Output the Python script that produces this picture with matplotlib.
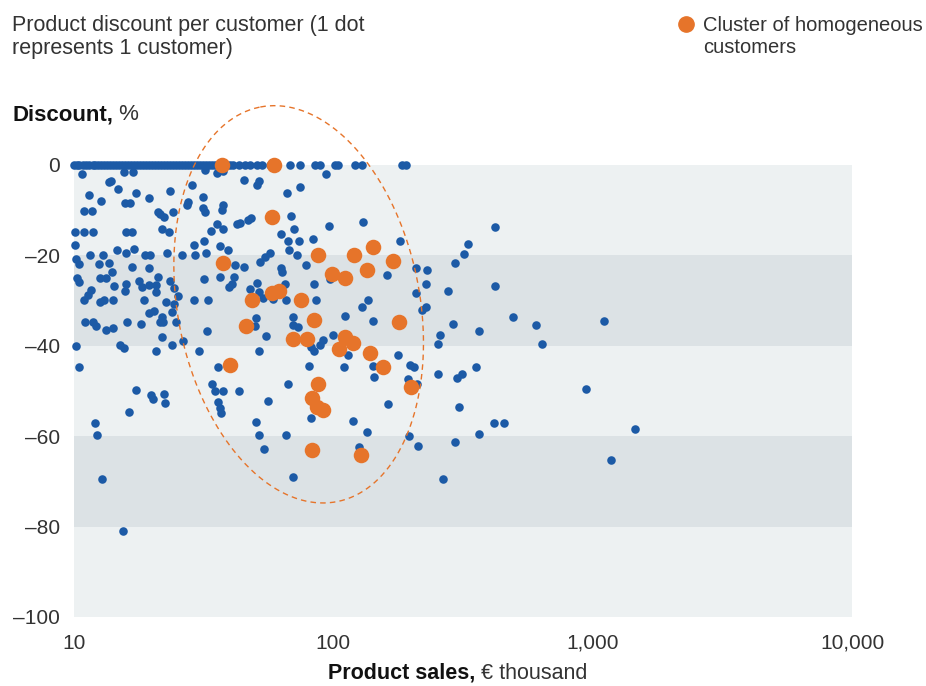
import numpy as np
import matplotlib
matplotlib.use("Agg")
import matplotlib.pyplot as plt
from matplotlib.lines import Line2D

plt.rcParams['font.family'] = ['Liberation Sans', 'DejaVu Sans']

# ---------------- data ----------------
# customers at 0 % discount (product sales, EUR thousand)
zero_disc_sales = [10.0, 10.3, 10.5, 10.8, 11.1, 11.4, 11.8, 12.0, 12.4, 12.7, 13.0, 13.4, 13.8,
                   14.1, 14.5, 14.9, 15.3, 15.7, 16.2, 16.6, 17.0, 17.5, 18.0, 18.4, 19.0, 19.5,
                   20.0, 20.5, 21.1, 21.6, 22.2, 22.8, 23.5, 24.1, 24.7, 25.4, 26.1, 26.8, 27.5,
                   28.3, 29.0, 29.8, 30.6, 31.5, 32.3, 33.2, 34.1, 35.0, 35.9, 36.9, 38.0, 39.0,
                   40.0, 41.0, 43.2, 45.7, 47.7, 51.0, 53.0, 57.0, 68.1, 74.4, 85.0, 88.9, 101.5,
                   104.3, 121.2, 129.1, 184, 191]

blue_sales = [
    10.7, 15.6, 16.9, 13.6, 13.9, 14.8, 17.4, 19.5, 23.5, 11.4, 12.7, 15.7, 16.4, 10.9, 11.7,
    21.0, 21.5, 22.2, 24.0, 27.2, 27.6, 10.1, 10.9, 11.8, 15.8, 16.7, 21.8, 23.3, 10.1, 28.9,
    10.2, 10.5, 11.5, 12.9, 12.5, 13.7, 14.6, 15.8, 17.0, 18.8, 19.6, 22.9, 26.0, 29.3, 16.7,
    19.5,
    14.0, 13.3, 12.6, 10.3, 10.5, 14.3, 15.8, 15.7, 17.8, 18.3, 19.4, 20.8, 21.1, 20.8, 23.5,
    24.4, 25.1, 11.6, 11.3, 10.9, 13.0, 12.6, 14.2, 18.6, 22.6, 24.2, 23.8, 28.9, 19.5, 20.4,
    21.8, 21.5, 22.1, 24.7, 11.0, 11.8, 12.2, 13.3, 14.2, 16.0, 18.1, 21.8, 23.8, 26.4, 10.2,
    15.0, 15.6, 20.8, 30.4, 10.5,
    17.4, 19.8, 20.1, 22.3, 22.5, 16.3, 12.1, 12.3, 12.8, 15.5,
    32.0, 35.5, 37.7, 45.3, 50.9, 51.9, 66.1, 74.4, 93.7, 28.5, 31.5, 31.5, 32.0, 37.7, 37.1,
    43.7, 47.0, 48.1, 42.4, 35.7, 37.7, 33.9, 68.5, 70.8, 62.6, 66.9, 73.7, 83.2, 95.9, 31.8,
    32.3, 36.6, 39.1, 57.0, 54.5, 52.2, 67.5, 72.5, 78.8, 41.9, 45.4, 62.6,
    63.3, 31.7, 36.6, 41.4, 39.6, 40.5, 47.7, 50.7, 51.9, 53.7, 58.4, 65.1, 65.7, 84.6, 85.5,
    33.0, 50.5, 49.9, 70.2, 70.2, 73.3, 32.7, 54.9, 91.5, 88.9, 81.8, 84.2, 51.7, 36.0, 80.4,
    34.1, 35.0, 37.7, 43.1, 36.0, 36.6, 36.9, 55.8, 66.8, 50.2, 51.9, 65.7, 54.2, 81.8, 70.2,
    130.6, 180.8, 294.7, 208.5, 229.9,
    97.1, 160.6, 227.3, 208.5, 275.6, 136.0, 128.9, 110.9, 141.6, 227.3, 220.3, 288.7, 257.9,
    253.7, 100.0, 113.5, 178.2, 109.9, 141.6, 197.6, 205.0, 252.2, 143.6, 194.6, 299.3,
    209.7, 162.8, 305.3, 119.4, 134.5, 196.1, 211.9, 294.7, 125.2, 264.4,
    422, 330, 319, 420, 494, 604, 1107, 366, 638, 313, 355, 943, 417, 456, 1457, 366, 1178,
]
blue_discount = [
    -2.1, -1.6, -1.6, -3.9, -3.6, -5.4, -6.4, -7.3, -5.8, -6.7, -8.0, -8.4, -8.4, -10.2, -10.2,
    -10.4, -10.9, -11.7, -10.6, -8.9, -8.2, -15.0, -15.0, -15.0, -15.0, -15.0, -14.2, -15.0, -17.8, -17.8,
    -20.9, -22.0, -20.0, -20.0, -22.0, -21.8, -19.0, -19.6, -18.7, -20.0, -20.0, -19.6, -20.0, -20.0, -22.7,
    -22.8,
    -23.7, -25.1, -25.1, -25.1, -26.0, -26.8, -26.4, -27.9, -25.7, -27.0, -26.6, -26.6, -24.8, -28.2, -25.7,
    -27.3, -29.0, -27.7, -28.8, -29.9, -29.9, -30.4, -29.9, -29.9, -30.3, -30.9, -32.5, -29.9, -32.8, -32.3,
    -33.6, -34.8, -34.8, -34.7, -34.7, -34.7, -35.6, -36.5, -36.2, -34.7, -35.3, -38.1, -39.8, -39.1, -40.0,
    -39.8, -40.6, -41.3, -41.3, -44.8,
    -49.9, -51.0, -51.8, -50.7, -52.8, -54.8, -57.1, -59.7, -69.6, -80.9,
    -1.2, -1.9, -1.4, -3.4, -4.5, -3.6, -6.4, -4.9, -2.1, -4.5, -7.1, -9.7, -10.6, -8.9, -10.0,
    -13.0, -12.3, -11.9, -13.1, -13.1, -14.2, -14.7, -11.3, -14.2, -15.3, -17.0, -17.0, -16.4, -13.7, -17.0,
    -19.6, -18.1, -19.0, -19.5, -20.5, -21.6, -18.9, -20.0, -22.2, -22.3, -22.6, -22.9,
    -23.7, -25.3, -24.9, -24.9, -27.0, -26.4, -27.5, -26.2, -28.2, -29.5, -29.8, -26.4, -29.9, -26.4, -29.9,
    -29.9, -34.0, -35.7, -33.8, -35.4, -36.0, -36.8, -37.9, -38.7, -39.8, -40.4, -41.3, -41.3, -44.8, -44.6,
    -48.5, -50.0, -50.0, -50.0, -52.5, -53.8, -54.9, -52.2, -48.5, -56.8, -59.7, -59.7, -62.8, -56.0, -69.1,
    -12.8, -17.0, -21.7, -22.9, -23.3,
    -25.2, -24.5, -26.4, -28.4, -27.9, -29.9, -31.6, -33.4, -34.5, -31.6, -32.1, -35.3, -37.6,
    -39.6, -37.6, -42.2, -42.2, -44.8, -44.5, -44.3, -44.8, -46.2, -47.0, -47.5, -47.2,
    -48.5, -52.9, -53.6, -56.6, -59.1, -59.9, -62.3, -61.4, -62.5, -69.6,
    -13.9, -17.6, -19.7, -26.8, -33.6, -35.4, -34.5, -36.8, -39.6, -46.2, -44.8, -49.6, -57.1, -57.1, -58.5, -59.6, -65.4,
]

cluster_sales = [37.2, 59.1, 58.0, 37.6, 87.3, 120.2, 142.3, 170.0, 98.8, 110.9, 134.9, 48.6,
                 58.0, 61.7, 75.1, 84.2, 179.2, 46.1, 69.9, 79.2, 110.9, 119.1, 105.1, 40.0,
                 138.5, 155.5, 87.3, 199.4, 82.8, 86.5, 91.3, 82.8, 127.9]
cluster_discount = [0, 0, -11.6, -21.7, -20.0, -20.0, -18.2, -21.3, -24.2, -25.1, -23.3, -29.9,
                    -28.4, -27.9, -29.9, -34.3, -34.8, -35.7, -38.5, -38.5, -38.1, -39.4, -40.7, -44.3,
                    -41.6, -44.7, -48.5, -49.1, -51.5, -53.5, -54.2, -63.2, -64.3]

x_ticks = [10, 100, 1000, 10000]
x_ticklabels = ["10", "100", "1,000", "10,000"]
y_ticks = [0, -20, -40, -60, -80, -100]
y_ticklabels = ["0", "–20", "–40", "–60", "–80", "–100"]

title_lines = ["Product discount per customer (1 dot", "represents 1 customer)"]
legend_lines = ["Cluster of homogeneous", "customers"]

# ---------------- style ----------------
BLUE = "#1c5aa6"
ORANGE = "#e6742a"
LIGHT = "#edf1f2"
DARK = "#dce2e5"
TXT = "#333333"

W, H = 926, 686
fig = plt.figure(figsize=(W / 100, H / 100), dpi=100)
ax_l, ax_r, ax_t, ax_b = 74, 852, 164.5, 617
ax = fig.add_axes([ax_l / W, 1 - ax_b / H, (ax_r - ax_l) / W, (ax_b - ax_t) / H])

ax.set_xscale('log')
ax.set_xlim(10, 10000)
ax.set_ylim(-100, 0)
ax.set_facecolor(LIGHT)
for lo, hi in [(-40, -20), (-80, -60)]:
    ax.axhspan(lo, hi, color=DARK, lw=0, zorder=0)

for s in ax.spines.values():
    s.set_visible(False)

ax.set_xticks(x_ticks)
ax.set_xticklabels(x_ticklabels)
ax.set_yticks(y_ticks)
ax.set_yticklabels(y_ticklabels)
ax.minorticks_off()
ax.tick_params(axis='both', length=0, labelsize=15, colors=TXT)
ax.tick_params(axis='y', pad=10)
ax.tick_params(axis='x', pad=12)

# dots
ax.scatter(zero_disc_sales, [0] * len(zero_disc_sales), s=38, color=BLUE, lw=0, zorder=3, clip_on=False)
ax.scatter(blue_sales, blue_discount, s=38, color=BLUE, lw=0, zorder=3, clip_on=False)
ax.scatter(cluster_sales, cluster_discount, s=125, color=ORANGE, lw=0, zorder=4, clip_on=False)

# dashed ellipse around cluster (shape given in screen pixels, mapped through data scales)
px_per_decade = (ax_r - ax_l) / 3.0
px_per_pct = (ax_b - ax_t) / 100.0
ell_center_sales, ell_center_disc = 73.5, -30.9
a_px, b_px, th = 201, 121, np.deg2rad(11)
t = np.linspace(0, 2 * np.pi, 500)
dx = -a_px * np.cos(t) * np.sin(th) + b_px * np.sin(t) * np.cos(th)
dy = a_px * np.cos(t) * np.cos(th) + b_px * np.sin(t) * np.sin(th)
ex = 10 ** (np.log10(ell_center_sales) + dx / px_per_decade)
ey = ell_center_disc + dy / px_per_pct
ax.plot(ex, ey, color=ORANGE, lw=1.0, ls=(0, (4, 3)), zorder=5, clip_on=False)

# title
for line, base in zip(title_lines, [31, 54]):
    fig.text(12 / W, 1 - base / H, line, fontsize=15.5, color=TXT, va='baseline', ha='left')

# legend
fig.add_artist(Line2D([686 / W], [1 - 24 / H], marker='o', markersize=11,
                      color=ORANGE, lw=0, transform=fig.transFigure))
for line, base in zip(legend_lines, [31, 53]):
    fig.text(703 / W, 1 - base / H, line, fontsize=14.5, color=TXT, va='baseline', ha='left')

# axis labels (bold part + regular part)
yl = fig.text(12 / W, 1 - 120 / H, "Discount,", fontsize=16, fontweight='bold', color='#111111',
              va='baseline', ha='left')
ax.annotate(" %", xy=(1, 0), xycoords=yl, va='bottom', ha='left', fontsize=16, color=TXT)

xl = fig.text(328 / W, 1 - 679 / H, "Product sales,", fontsize=15.5, fontweight='bold', color='#111111',
              va='baseline', ha='left')
ax.annotate(" € thousand", xy=(1, 0), xycoords=xl, va='bottom', ha='left', fontsize=15.5, color=TXT)

fig.savefig("out.png", dpi=100)
